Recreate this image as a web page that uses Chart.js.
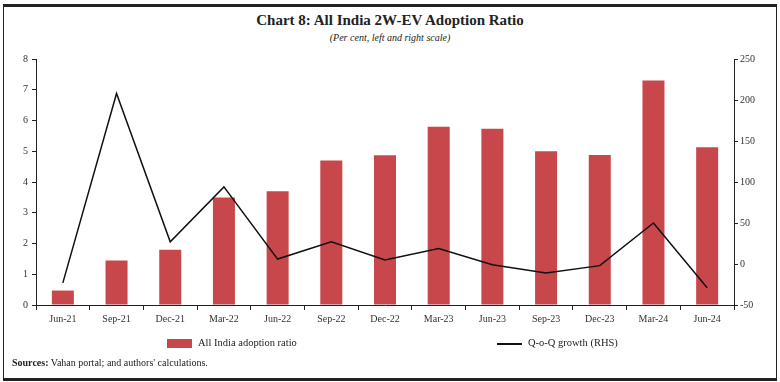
<!DOCTYPE html>
<html>
<head>
<meta charset="utf-8">
<script src="https://cdn.jsdelivr.net/npm/chart.js@4"></script>
<style>
  body { margin: 0; background: #fff; }
  #wrap { position: relative; width: 780px; height: 382px; overflow: hidden; font-family: "Liberation Serif", "DejaVu Serif", serif; color: #222; }
  #frame { position: absolute; left: 3px; top: 4px; width: 772px; height: 371px; border-top: 3px solid #222; border-bottom: 3px solid #222; border-left: 1px solid #222; border-right: 1px solid #222; }
  #title { position: absolute; top: 12px; width: 780px; text-align: center; font-weight: bold; font-size: 15px; }
  #sub { position: absolute; top: 32px; width: 780px; text-align: center; font-style: italic; font-size: 10px; }
  #chart { position: absolute; left: 0; top: 0; }
  .leg { position: absolute; top: 337px; font-size: 10.5px; }
  .box { position: absolute; top: 339px; }
  #src { position: absolute; left: 12px; top: 357px; font-size: 10px; }
</style>
</head>
<body>
<div id="wrap">
  <div id="frame"></div>
  <div id="title">Chart 8: All India 2W-EV Adoption Ratio</div>
  <div id="sub">(Per cent, left and right scale)</div>
  <canvas id="chart" width="780" height="382"></canvas>
  <div class="box" style="left:167px; width:25px; height:9px; background:#C8474B;"></div>
  <div class="leg" style="left:198px;">All India adoption ratio</div>
  <div class="box" style="left:497px; top:343px; width:25px; height:2px; background:#111;"></div>
  <div class="leg" style="left:528px;">Q-o-Q growth (RHS)</div>
  <div id="src"><b>Sources:</b> Vahan portal; and authors' calculations.</div>
</div>
<script>
// Quarters on the x axis
const quarters = ['Jun-21', 'Sep-21', 'Dec-21', 'Mar-22', 'Jun-22', 'Sep-22', 'Dec-22',
  'Mar-23', 'Jun-23', 'Sep-23', 'Dec-23', 'Mar-24', 'Jun-24'];

// All India adoption ratio (per cent, left scale)
const adoptionRatio = [0.47, 1.45, 1.8, 3.5, 3.7, 4.7, 4.87, 5.8, 5.73, 5.0, 4.88, 7.3, 5.13];

// Q-o-Q growth (per cent, right scale)
const qoqGrowth = [-23, 208, 27, 94, 6, 27, 5, 19, -1, -11, -2, 50, -29];

const axisColor = '#222';
const tickFont = { family: 'Liberation Serif', size: 10 };

const ctx = document.getElementById('chart').getContext('2d');
const chart = new Chart(ctx, {
  type: 'bar',
  data: {
    labels: quarters,
    datasets: [{
      type: 'line',
      label: 'Q-o-Q growth (RHS)',
      data: qoqGrowth,
      yAxisID: 'y1',
      borderColor: '#111',
      borderWidth: 1.5,
      pointRadius: 0,
      tension: 0,
      order: 0
    }, {
      label: 'All India adoption ratio',
      data: adoptionRatio,
      yAxisID: 'y',
      backgroundColor: '#C8474B',
      barPercentage: 0.82,
      categoryPercentage: 0.5,
      order: 1
    }]
  },
  options: {
    responsive: false,
    animation: false,
    layout: { padding: { left: 0, right: 0, top: 59, bottom: 57 } },
    plugins: { legend: { display: false }, tooltip: { enabled: false } },
    scales: {
      x: {
        grid: { drawOnChartArea: false, drawTicks: true, tickLength: 5, color: axisColor, offset: true },
        border: { color: axisColor, width: 1 },
        ticks: { color: '#333', font: tickFont, padding: 3, maxRotation: 0 },
        afterFit: s => { s.height = 20; }
      },
      y: {
        position: 'left',
        min: 0, max: 8,
        ticks: { stepSize: 1, color: '#333', font: tickFont, padding: 4 },
        grid: { drawOnChartArea: false, drawTicks: true, tickLength: 4, color: axisColor },
        border: { color: axisColor, width: 1 },
        afterFit: s => { s.width = 36; }
      },
      y1: {
        position: 'right',
        min: -50, max: 250,
        ticks: { stepSize: 50, color: '#333', font: tickFont, padding: 2 },
        grid: { drawOnChartArea: false, drawTicks: true, tickLength: 4, color: axisColor },
        border: { color: axisColor, width: 1 },
        afterFit: s => { s.width = 46; }
      }
    }
  }
});
</script>
</body>
</html>
